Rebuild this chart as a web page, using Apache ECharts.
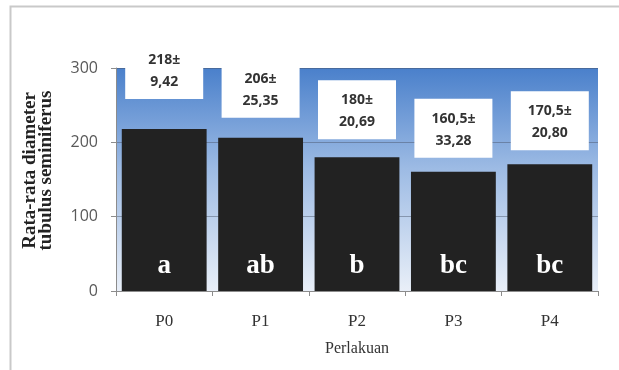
<!DOCTYPE html>
<html>
<head>
<meta charset="utf-8">
<script src="https://cdn.jsdelivr.net/npm/echarts@6/dist/echarts.min.js"></script>
<style>
  html, body { margin: 0; padding: 0; background: #ffffff; }
  #chart { width: 619px; height: 370px; }
</style>
</head>
<body>
<div id="chart"></div>
<script>
// Treatment groups and measured mean diameter (± SD) of seminiferous tubules
const categories = ['P0', 'P1', 'P2', 'P3', 'P4'];
const meanValues = [218, 206, 180, 160.5, 170.5];
const sdLabels = ['9,42', '25,35', '20,69', '33,28', '20,80'];
const meanLabels = ['218', '206', '180', '160,5', '170,5'];
const groupLetters = ['a', 'ab', 'b', 'bc', 'bc'];
const yTicks = { min: 0, max: 300, interval: 100 };

// Vertical gap (px) between each bar top and its value box
const boxLift = [30, 20, 18, 14, 14];

const chart = echarts.init(document.getElementById('chart'), null, { renderer: 'canvas' });

const valueBars = meanValues.map((v, i) => ({
  value: v,
  label: { distance: boxLift[i] }
}));

chart.setOption({
  animation: false,
  backgroundColor: '#ffffff',
  graphic: [{
    type: 'rect',
    left: 8, top: 4,
    shape: { width: 640, height: 400 },
    style: { fill: 'none', stroke: '#c9c9c9', lineWidth: 2 },
    z: -1
  }],
  grid: {
    left: 116, right: 21, top: 68, bottom: 79,
    show: true,
    borderWidth: 0,
    backgroundColor: new echarts.graphic.LinearGradient(0, 0, 0, 1, [
      { offset: 0, color: '#4a80cb' },
      { offset: 0.45, color: '#9dbbe4' },
      { offset: 1, color: '#e9eff8' }
    ])
  },
  xAxis: {
    type: 'category',
    data: categories,
    name: 'Perlakuan',
    nameLocation: 'middle',
    nameGap: 50,
    nameTextStyle: { fontFamily: 'Liberation Serif', fontSize: 16, color: '#333333' },
    axisLine: { lineStyle: { color: '#8c8c8c', width: 1 } },
    axisTick: { show: true, length: 5, lineStyle: { color: '#8c8c8c' } },
    axisLabel: { fontFamily: 'Liberation Serif', fontSize: 17, color: '#333333', margin: 22 }
  },
  yAxis: {
    type: 'value',
    min: yTicks.min, max: yTicks.max, interval: yTicks.interval,
    name: 'Rata-rata diameter\ntubulus seminiferus',
    nameLocation: 'middle',
    nameGap: 62,
    nameTextStyle: {
      fontFamily: 'Liberation Serif', fontWeight: 'bold', fontSize: 19,
      color: '#222222', lineHeight: 16,
      padding: [0, 0, 0, 18]
    },
    axisLine: { show: true, lineStyle: { color: '#8c8c8c', width: 1 } },
    axisTick: { show: true, length: 5, lineStyle: { color: '#8c8c8c' } },
    axisLabel: { fontFamily: 'Open Sans', fontSize: 16, color: '#595959', margin: 18 },
    splitLine: { show: true, lineStyle: { color: 'rgba(70,80,100,0.45)', width: 1 } }
  },
  series: [
    {
      type: 'bar',
      data: valueBars,
      barCategoryGap: '12%',
      itemStyle: { color: '#222222' },
      label: {
        show: true,
        position: 'top',
        formatter: p => meanLabels[p.dataIndex] + '±\n' + sdLabels[p.dataIndex],
        fontFamily: 'Open Sans', fontWeight: 'bold', fontSize: 14,
        color: '#333333', lineHeight: 22,
        backgroundColor: '#ffffff',
        width: 62, align: 'center',
        padding: [9, 8, 6, 8]
      },
      z: 2
    },
    {
      type: 'bar',
      data: meanValues,
      barGap: '-100%',
      barCategoryGap: '12%',
      itemStyle: { color: 'rgba(0,0,0,0)' },
      label: {
        show: true,
        position: 'insideBottom',
        distance: 11,
        formatter: p => groupLetters[p.dataIndex],
        fontFamily: 'Liberation Serif', fontWeight: 'bold', fontSize: 27,
        color: '#ffffff'
      },
      z: 3
    }
  ]
});
</script>
</body>
</html>
